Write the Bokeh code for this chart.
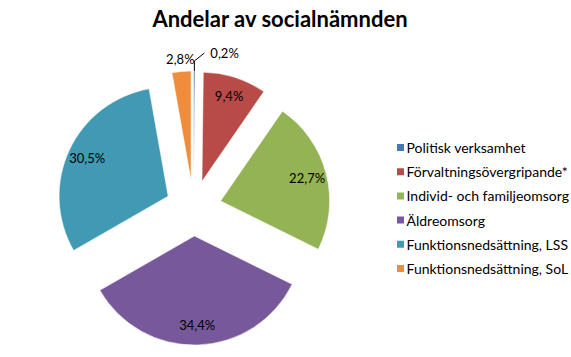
import math
from bokeh.plotting import figure
from bokeh.models import ColumnDataSource, Range1d
from bokeh.core.properties import value
from bokeh.embed import file_html
from bokeh.resources import INLINE

title = "Andelar av socialnämnden"
categories = ["Politisk verksamhet", "Förvaltningsövergripande*",
              "Individ- och familjeomsorg", "Äldreomsorg",
              "Funktionsnedsättning, LSS", "Funktionsnedsättning, SoL"]
shares = [0.2, 9.4, 22.7, 34.4, 30.5, 2.8]
labels = ["0,2%", "9,4%", "22,7%", "34,4%", "30,5%", "2,8%"]
colors = ["#4677B3", "#B84A48", "#93B354", "#77599B", "#4199B3", "#EE8D3D"]

W, H = 571, 357
FONT = "Lato"

# layout (pixel space, y measured downward then flipped)
CX, CY_TOP = 193.0, 207.5
R = 109.0
EXPLODE = 28.0
CY = H - CY_TOP

total = sum(shares)
xs, ys, starts, ends = [], [], [], []
in_lx, in_ly, in_lab = [], [], []
out_lx, out_ly, out_lab = [], [], []
lead_xs, lead_ys = [], []
small_lx, small_ly, small_lab = [], [], []
cum = 0.0
for s, lab in zip(shares, labels):
    a = cum / total
    b = (cum + s) / total
    cum += s
    m = (a + b) / 2
    th = math.pi / 2 - 2 * math.pi * m
    ox = CX + EXPLODE * math.cos(th)
    oy = CY + EXPLODE * math.sin(th)
    xs.append(ox)
    ys.append(oy)
    starts.append(math.pi / 2 - 2 * math.pi * b)
    ends.append(math.pi / 2 - 2 * math.pi * a)
    frac = s / total
    if frac >= 0.05:
        in_lx.append(ox + 0.82 * R * math.cos(th))
        in_ly.append(oy + 0.82 * R * math.sin(th))
        in_lab.append(lab)
    elif frac >= 0.01:
        out_lx.append(ox + (R + 13) * math.cos(th))
        out_ly.append(oy + (R + 13) * math.sin(th))
        out_lab.append(lab)
    else:
        px = ox + R * math.cos(th)
        py = oy + R * math.sin(th)
        p2x, p2y = px, py + 10
        p3x, p3y = p2x + 10, p2y + 8
        lead_xs.append([px, p2x, p3x])
        lead_ys.append([py, p2y, p3y])
        small_lx.append(p3x + 6)
        small_ly.append(p3y)
        small_lab.append(lab)

p = figure(width=W, height=H, x_range=Range1d(0, W), y_range=Range1d(0, H),
           output_backend="svg", toolbar_location=None, min_border=0,
           x_axis_location=None, y_axis_location=None)
p.grid.visible = False
p.outline_line_color = None
p.background_fill_color = "white"
p.border_fill_color = "white"

src = ColumnDataSource(dict(x=xs, y=ys, start=starts, end=ends, color=colors, cat=categories))
p.wedge(x="x", y="y", radius=R, start_angle="start", end_angle="end",
        fill_color="color", line_color="white", line_width=0.5, source=src)

p.text(x=in_lx, y=in_ly, text=in_lab, text_font=value(FONT), text_font_size="13px",
       text_align="center", text_baseline="middle", text_color="#000000")
p.text(x=out_lx, y=out_ly, text=out_lab, text_font=value(FONT), text_font_size="13px",
       text_align="center", text_baseline="middle", text_color="#000000")
p.multi_line(xs=lead_xs, ys=lead_ys, line_color="#000000", line_width=1)
p.text(x=small_lx, y=small_ly, text=small_lab, text_font=value(FONT), text_font_size="13px",
       text_align="left", text_baseline="middle", text_color="#000000")

# title
p.text(x=[280], y=[H - 18], text=[title], text_font=value(FONT), text_font_size="22px",
       text_font_style="bold", text_align="center", text_baseline="middle", text_color="#000000")

# legend
LEG_X, LEG_Y0, LEG_DY = 400, 147, 24.2
leg_y = [H - (LEG_Y0 + i * LEG_DY) for i in range(len(categories))]
p.scatter(x=[LEG_X] * len(categories), y=leg_y, marker="square", size=7,
          fill_color=colors, line_color=None)
p.text(x=[LEG_X + 6] * len(categories), y=leg_y, text=categories, text_font=value(FONT),
       text_font_size="14px", text_align="left", text_baseline="middle", text_color="#000000")

open("out.html", "w").write(file_html(p, INLINE))
